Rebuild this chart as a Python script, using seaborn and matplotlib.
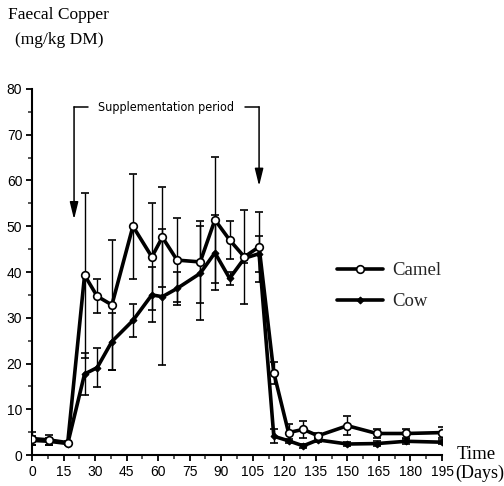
import matplotlib
matplotlib.use("Agg")
import matplotlib.pyplot as plt
import seaborn as sns
import pandas as pd
from matplotlib.ticker import MultipleLocator

# ---- data ----
days = [0, 8, 17, 25, 31, 38, 48, 57, 62, 69, 80, 87, 94, 101, 108,
        115, 122, 129, 136, 150, 164, 178, 195]
camel = [3.6, 3.3, 2.7, 39.3, 34.7, 32.8, 50.0, 43.3, 47.6, 42.6, 42.2,
         51.4, 47.0, 43.3, 45.5, 18.0, 4.9, 5.6, 4.2, 6.4, 4.7, 4.7, 4.9]
camel_err = [1.5, 1.1, 0.4, 18.0, 3.7, 14.3, 11.5, 11.7, 10.9, 9.1, 8.9,
             13.8, 4.1, 10.2, 7.6, 2.4, 1.9, 1.8, 0.7, 2.1, 1.0, 1.0, 1.2]
cow = [3.2, 3.0, 2.5, 17.7, 19.1, 24.8, 29.4, 35.0, 34.6, 36.4, 39.7,
       44.2, 38.6, 43.0, 44.0, 4.1, 3.1, 2.0, 3.3, 2.4, 2.5, 3.0, 2.8]
cow_err = [1.0, 0.8, 0.3, 4.5, 4.2, 6.2, 3.7, 6.0, 14.9, 3.7, 10.3,
           8.2, 1.5, 1.0, 3.9, 1.5, 0.5, 0.5, 0.5, 0.5, 0.5, 0.5, 0.5]
x_ticks = list(range(0, 196, 15))
y_ticks = list(range(0, 81, 10))

sns.set_style("ticks")
plt.rcParams["font.family"] = ["Liberation Sans", "DejaVu Sans"]

fig = plt.figure(figsize=(5.04, 4.86), dpi=100)
ax = fig.add_axes([32 / 504, 1 - 455 / 486, (442 - 32) / 504, (455 - 89) / 486])

# error bars
ax.errorbar(days, camel, yerr=camel_err, fmt="none", ecolor="black",
            elinewidth=1.0, capsize=3, capthick=1.2, zorder=2)
ax.errorbar(days, cow, yerr=cow_err, fmt="none", ecolor="black",
            elinewidth=1.0, capsize=3, capthick=1.2, zorder=2)

df_cow = pd.DataFrame({"day": days, "val": cow})
df_camel = pd.DataFrame({"day": days, "val": camel})
sns.lineplot(data=df_cow, x="day", y="val", ax=ax, color="black", lw=2.6,
             marker="D", markersize=3.5, markeredgecolor="black",
             markerfacecolor="black", label="Cow", zorder=3)
sns.lineplot(data=df_camel, x="day", y="val", ax=ax, color="black", lw=2.6,
             marker="o", markersize=5.5, markeredgecolor="black",
             markerfacecolor="white", markeredgewidth=1.2, label="Camel",
             zorder=4)

ax.set_xlim(0, 195)
ax.set_ylim(0, 80)
ax.set_xticks(x_ticks)
ax.set_yticks(y_ticks)
ax.xaxis.set_minor_locator(MultipleLocator(7.5))
ax.yaxis.set_minor_locator(MultipleLocator(5))
ax.tick_params(axis="both", which="major", direction="out", length=4,
               width=1.3, labelsize=10, pad=3, colors="black")
ax.tick_params(axis="both", which="minor", direction="out", length=3,
               width=1.1)
ax.set_xlabel("")
ax.set_ylabel("")
for s in ["top", "right"]:
    ax.spines[s].set_visible(False)
for s in ["left", "bottom"]:
    ax.spines[s].set_linewidth(1.5)
    ax.spines[s].set_color("black")

# legend
h, l = ax.get_legend_handles_labels()
order = [l.index("Camel"), l.index("Cow")]
leg = ax.legend([h[i] for i in order], [l[i] for i in order],
                loc="upper left", bbox_to_anchor=(337 / 504, 1 - 262 / 486),
                bbox_transform=fig.transFigure, frameon=False, borderpad=0,
                borderaxespad=0, handlelength=2.45, handletextpad=0.5,
                labelspacing=0.75,
                prop={"family": "Liberation Serif", "size": 13.5})

# supplementation annotations
arrow_style = "-|>,head_width=0.16,head_length=0.65"
ax.plot([20, 26.6], [76, 76], color="black", lw=1.1)
ax.annotate("", xy=(20, 51.5), xytext=(20, 76.1),
            arrowprops=dict(arrowstyle=arrow_style, lw=1.1, color="black",
                            mutation_scale=16, shrinkA=0, shrinkB=0))
ax.plot([101.3, 108], [76, 76], color="black", lw=1.1)
ax.annotate("", xy=(108, 58.8), xytext=(108, 76.1),
            arrowprops=dict(arrowstyle=arrow_style, lw=1.1, color="black",
                            mutation_scale=16, shrinkA=0, shrinkB=0))
ax.text(63.8, 76, "Supplementation period", ha="center", va="center",
        fontsize=9, family="DejaVu Sans", fontstretch="condensed",
        color="black")

# titles
fig.text(8 / 504, 1 - 15 / 486, "Faecal Copper", ha="left", va="center",
         family="Liberation Serif", fontsize=12.5, color="black")
fig.text(15 / 504, 1 - 40 / 486, "(mg/kg DM)", ha="left", va="center",
         family="Liberation Serif", fontsize=12.5, color="black")
fig.text(457 / 504, 1 - 454 / 486, "Time", ha="left", va="center",
         family="Liberation Serif", fontsize=13.5, color="black")
fig.text(455 / 504, 1 - 473 / 486, "(Days)", ha="left", va="center",
         family="Liberation Serif", fontsize=13, color="black")

fig.savefig("out.png", dpi=100)
